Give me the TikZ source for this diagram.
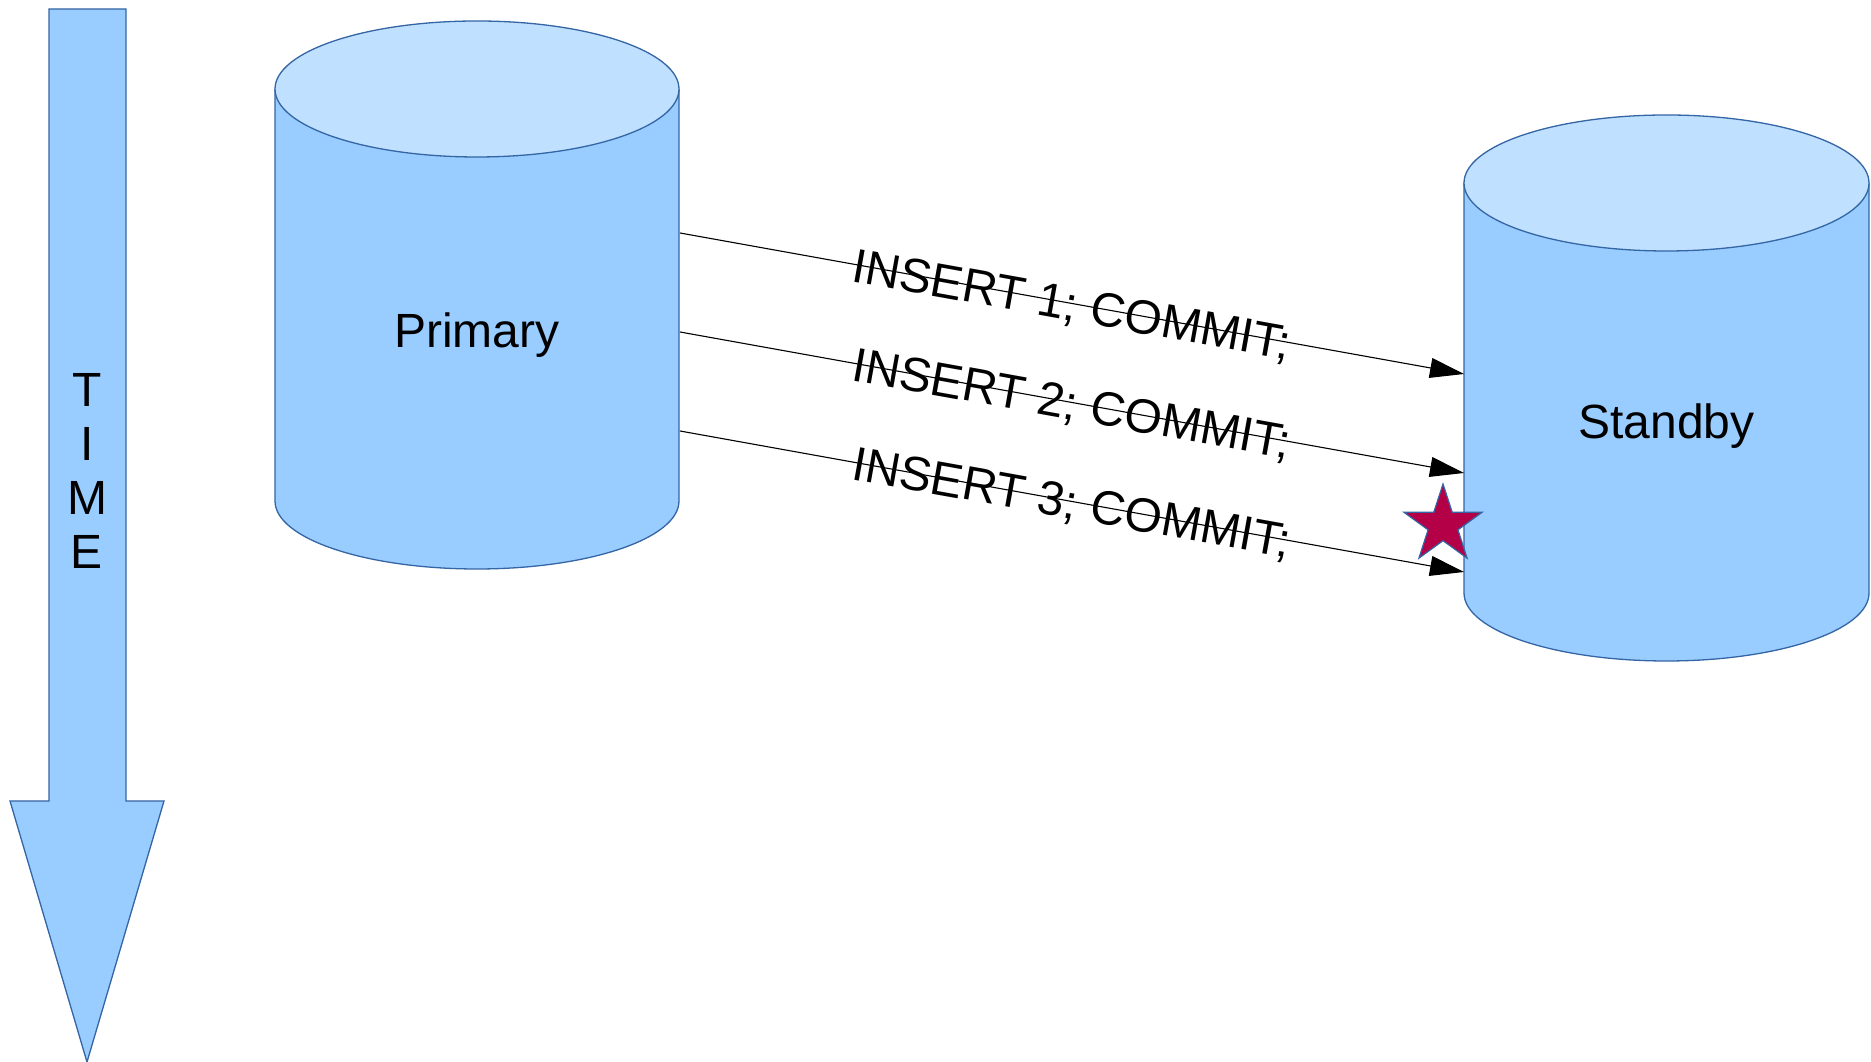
\documentclass[tikz,border=0pt]{standalone}
\usepackage{fontspec}
\setmainfont{Liberation Sans}
\usetikzlibrary{arrows.meta}
\definecolor{bodyblue}{HTML}{99CCFF}
\definecolor{topblue}{HTML}{C0E0FF}
\definecolor{edgeblue}{HTML}{3465A4}
\definecolor{starred}{HTML}{B40046}
\tikzset{
  shapefill/.style={fill=bodyblue},
  shapeedge/.style={draw=edgeblue, line width=1.3pt},
  dbtext/.style={font=\fontsize{48}{54}\selectfont, inner sep=0pt},
  captext/.style={font=\fontsize{48}{54}\selectfont, inner sep=0pt, text height=34.4pt, text depth=0pt},
  msg/.style={draw=black, line width=1.1pt, -{Triangle[length=34pt,width=20pt]}},
}
\begin{document}
\begin{tikzpicture}[x=1pt,y=1pt]
\useasboundingbox (0,0) rectangle (1871,1062);
% time arrow
\path[shapefill] (49,1053) -- (126,1053) -- (126,261) -- (164,261) -- (87,0) -- (10,261) -- (49,261) -- cycle;
\draw[shapeedge, line join=miter] (49,1053) -- (126,1053) -- (126,261) -- (164,261) -- (87,0) -- (10,261) -- (49,261) -- cycle;
\node[dbtext, align=center] (time) at (87,591) {T\\I\\M\\E};
% primary cylinder
\path[shapefill] (275,973) -- (275,561) arc[start angle=180,end angle=360,x radius=202pt,y radius=68pt] -- (679,973) -- cycle;
\draw[shapeedge] (275,973) -- (275,561) arc[start angle=180,end angle=360,x radius=202pt,y radius=68pt] -- (679,973);
\draw[shapeedge, fill=topblue] (477,973) ellipse[x radius=202pt, y radius=68pt];
\node[captext] (primary) at (477,731.5) {Primary};
% standby cylinder
\path[shapefill] (1464,879) -- (1464,469) arc[start angle=180,end angle=360,x radius=202.5pt,y radius=68pt] -- (1869,879) -- cycle;
\draw[shapeedge] (1464,879) -- (1464,469) arc[start angle=180,end angle=360,x radius=202.5pt,y radius=68pt] -- (1869,879);
\draw[shapeedge, fill=topblue] (1666.5,879) ellipse[x radius=202.5pt, y radius=68pt];
\node[captext] (standby) at (1666.5,641) {Standby};
% connection points
\coordinate (p1) at (680,829);
\coordinate (p2) at (680,730);
\coordinate (p3) at (680,631);
\coordinate (s1) at (1464,688);
\coordinate (s2) at (1464,589);
\coordinate (s3) at (1464,490);
\draw[msg] (p1) -- (s1) node[captext, midway, sloped] (m1) {INSERT 1; COMMIT;};
\draw[msg] (p2) -- (s2) node[captext, midway, sloped] (m2) {INSERT 2; COMMIT;};
\draw[msg] (p3) -- (s3) node[captext, midway, sloped] (m3) {INSERT 3; COMMIT;};
% star
\coordinate (sc) at (1443,537);
\filldraw[fill=starred, draw=edgeblue, line width=1.2pt]
  ([shift={(90:41pt)}]sc) -- ([shift={(126:15.7pt)}]sc) --
  ([shift={(162:41pt)}]sc) -- ([shift={(198:15.7pt)}]sc) --
  ([shift={(234:41pt)}]sc) -- ([shift={(270:15.7pt)}]sc) --
  ([shift={(306:41pt)}]sc) -- ([shift={(342:15.7pt)}]sc) --
  ([shift={(18:41pt)}]sc) -- ([shift={(54:15.7pt)}]sc) -- cycle;
\end{tikzpicture}
\end{document}
